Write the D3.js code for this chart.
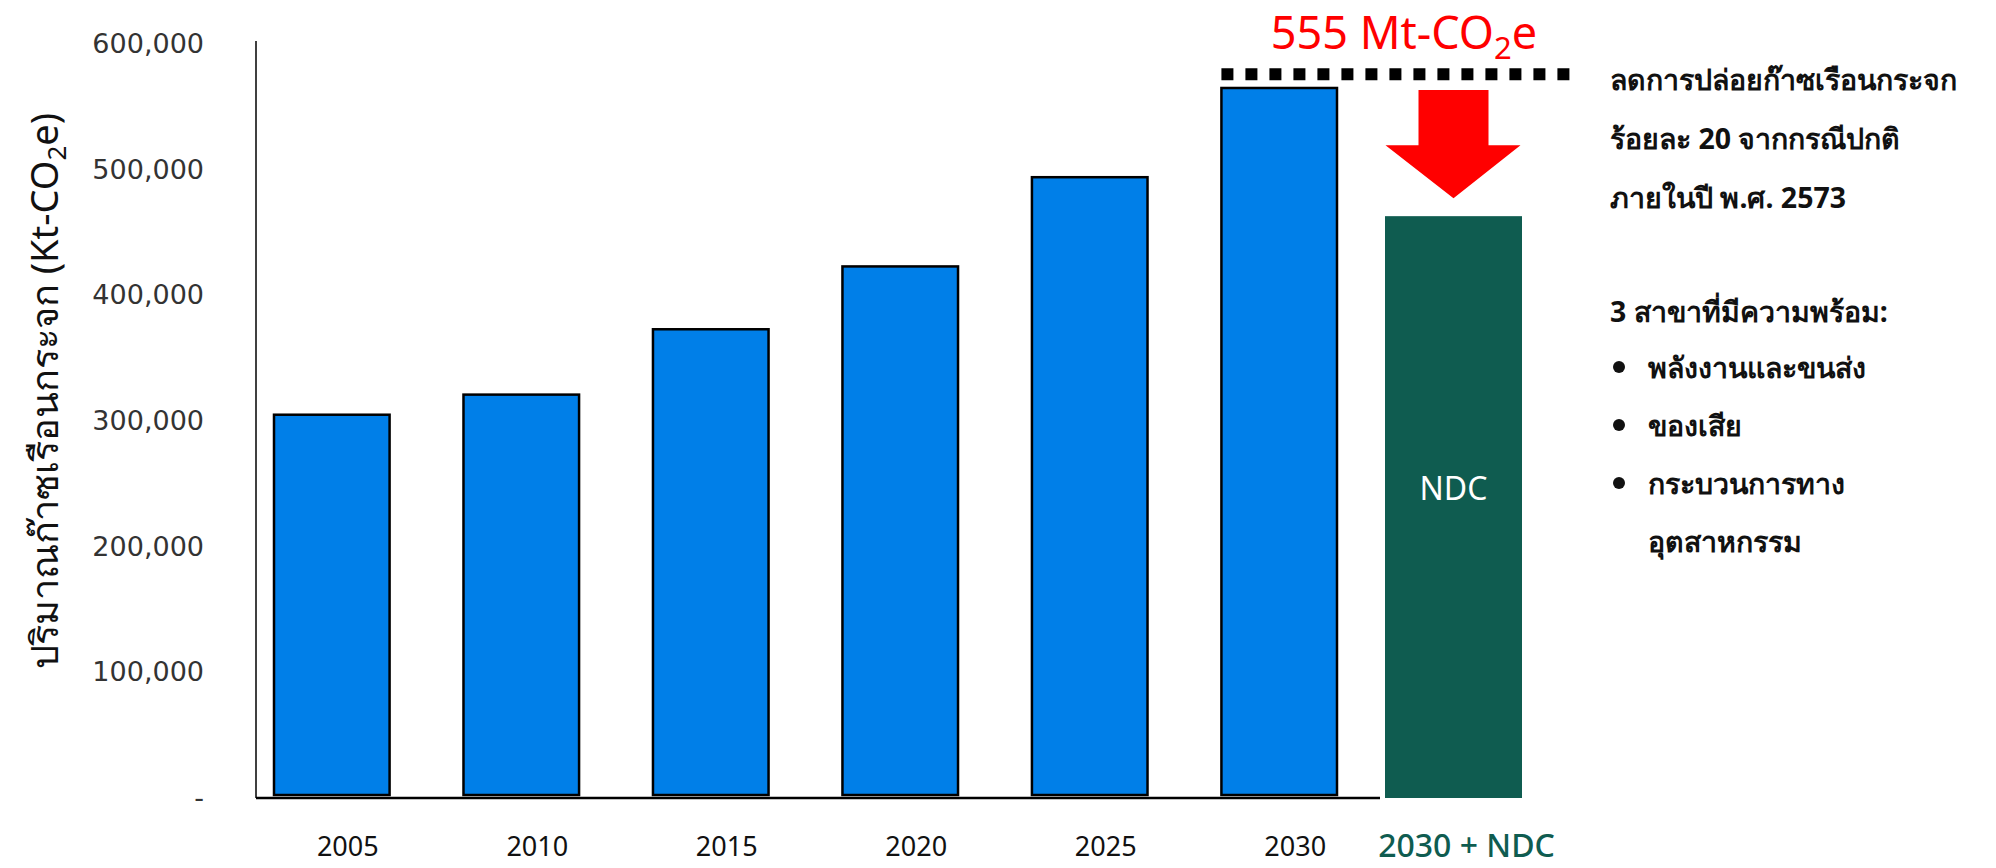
<!DOCTYPE html>
<html>
<head>
<meta charset="utf-8">
<script src="https://cdn.jsdelivr.net/npm/d3@7"></script>
<style>
  body { margin: 0; background: #fff; }
  text { font-family: "Noto Sans", sans-serif; }
</style>
</head>
<body>
<script>
// data
var years = ["2005", "2010", "2015", "2020", "2025", "2030"];
var emissions = [305000, 321000, 373000, 423000, 494000, 565000];
var ndcLabel = "2030 + NDC";
var ndcValue = 463000;
var bauLevel = 576000;
var yTicks = [0, 100000, 200000, 300000, 400000, 500000, 600000];
var noteLines = ["ลดการปล่อยก๊าซเรือนกระจก", "ร้อยละ 20 จากกรณีปกติ", "ภายในปี พ.ศ. 2573"];
var sectorTitle = "3 สาขาที่มีความพร้อม:";
var sectors = [["พลังงานและขนส่ง"], ["ของเสีย"], ["กระบวนการทาง", "อุตสาหกรรม"]];

var width = 1996;
var height = 868;

var blue = "#007fe8";
var green = "#0f5c50";
var thaiFont = "'Liberation Sans Narrow', 'Noto Sans', sans-serif";

var svg = d3.select("body").append("svg")
    .attr("width", width)
    .attr("height", height);

// scales
var x = d3.scaleBand()
    .domain(years)
    .range([250, 1385])
    .paddingInner(0.39)
    .paddingOuter(0.19);

var y = d3.scaleLinear()
    .domain([0, 600000])
    .range([798, 44]);

// y axis
var yAxis = d3.axisLeft(y)
    .tickValues(yTicks)
    .tickSize(0)
    .tickPadding(52)
    .tickFormat(function(d) { return d === 0 ? "-" : d3.format(",")(d); });

var gy = svg.append("g")
    .attr("transform", "translate(256,0)")
    .call(yAxis);
gy.select(".domain").remove();
gy.selectAll("text")
    .style("font-family", "'DejaVu Sans', sans-serif")
    .style("font-size", "27px")
    .attr("fill", "#333");

// axis lines
svg.append("line")
    .attr("x1", 256).attr("x2", 256)
    .attr("y1", 41).attr("y2", y(0))
    .attr("stroke", "#000").attr("stroke-width", 1.5);
svg.append("line")
    .attr("x1", 256).attr("x2", 1380)
    .attr("y1", y(0)).attr("y2", y(0))
    .attr("stroke", "#000").attr("stroke-width", 2.5);

// bars
var barShift = -12;
svg.selectAll(".bar")
    .data(emissions)
    .enter().append("rect")
    .attr("class", "bar")
    .attr("x", function(d, i) { return x(years[i]) + barShift; })
    .attr("y", function(d) { return y(d); })
    .attr("width", x.bandwidth())
    .attr("height", function(d) { return y(0) - y(d) - 3; })
    .attr("fill", blue)
    .attr("stroke", "#000")
    .attr("stroke-width", 2.5);

// x labels
svg.selectAll(".xlab")
    .data(years)
    .enter().append("text")
    .attr("class", "xlab")
    .attr("x", function(d) { return x(d) + x.bandwidth() / 2 + 4; })
    .attr("y", 856)
    .attr("text-anchor", "middle")
    .style("font-family", thaiFont)
    .style("font-size", "27px")
    .attr("fill", "#111")
    .text(function(d) { return d; });

// NDC bar
var ndcX = 1385, ndcW = 137;
svg.append("rect")
    .attr("x", ndcX)
    .attr("y", y(ndcValue))
    .attr("width", ndcW)
    .attr("height", y(0) - y(ndcValue))
    .attr("fill", green);

svg.append("text")
    .attr("x", ndcX + ndcW / 2)
    .attr("y", 500)
    .attr("text-anchor", "middle")
    .style("font-size", "32px")
    .attr("fill", "#fff")
    .text("NDC");

svg.append("text")
    .attr("x", ndcX + ndcW / 2 + 13)
    .attr("y", 857)
    .attr("text-anchor", "middle")
    .style("font-size", "32px")
    .style("font-weight", 500)
    .attr("fill", green)
    .text(ndcLabel);

// dotted BAU line
var lastX = x(years[years.length - 1]) + barShift;
svg.append("line")
    .attr("x1", lastX)
    .attr("x2", 1577)
    .attr("y1", y(bauLevel))
    .attr("y2", y(bauLevel))
    .attr("stroke", "#000")
    .attr("stroke-width", 12)
    .attr("stroke-dasharray", "12,12");

var title = svg.append("text")
    .attr("x", 1404)
    .attr("y", 49)
    .attr("text-anchor", "middle")
    .style("font-size", "45px")
    .attr("fill", "#ff0000");
title.append("tspan").text("555 Mt-CO");
title.append("tspan").attr("dy", 10).style("font-size", "31px").text("2");
title.append("tspan").attr("dy", -10).text("e");

// red arrow from BAU to NDC
var ax = ndcX + ndcW / 2;
var aTop = y(emissions[emissions.length - 1]) + 2;
var aTip = y(ndcValue) - 18;
var aHead = aTip - 53;
var arrow = [
    [ax - 35, aTop], [ax + 35, aTop], [ax + 35, aHead], [ax + 67, aHead],
    [ax, aTip], [ax - 68, aHead], [ax - 35, aHead]
];
svg.append("polygon")
    .attr("points", arrow.map(function(p) { return p.join(","); }).join(" "))
    .attr("fill", "#ff0000");

// y axis title
var yt = svg.append("text")
    .attr("transform", "translate(58,391) rotate(-90)")
    .attr("text-anchor", "middle")
    .style("font-family", thaiFont)
    .style("font-size", "38px")
    .attr("fill", "#111");
yt.append("tspan").text("ปริมาณก๊าซเรือนกระจก (Kt-CO");
yt.append("tspan").attr("dy", 8).style("font-size", "26px").text("2");
yt.append("tspan").attr("dy", -8).text("e)");

// notes on the right
var noteG = svg.append("g")
    .style("font-size", "28.5px")
    .style("font-weight", "bold")
    .attr("fill", "#111");

noteG.selectAll(".note")
    .data(noteLines)
    .enter().append("text")
    .attr("class", "note")
    .attr("x", 1610)
    .attr("y", function(d, i) { return 90 + i * 59; })
    .text(function(d) { return d; });

noteG.append("text")
    .attr("x", 1610)
    .attr("y", 322)
    .text(sectorTitle);

var lineY = 378;
sectors.forEach(function(s) {
    noteG.append("circle")
        .attr("cx", 1619)
        .attr("cy", lineY - 11)
        .attr("r", 6)
        .attr("fill", "#111");
    s.forEach(function(t) {
        noteG.append("text")
            .attr("x", 1648)
            .attr("y", lineY)
            .text(t);
        lineY += 58;
    });
});
</script>
</body>
</html>
